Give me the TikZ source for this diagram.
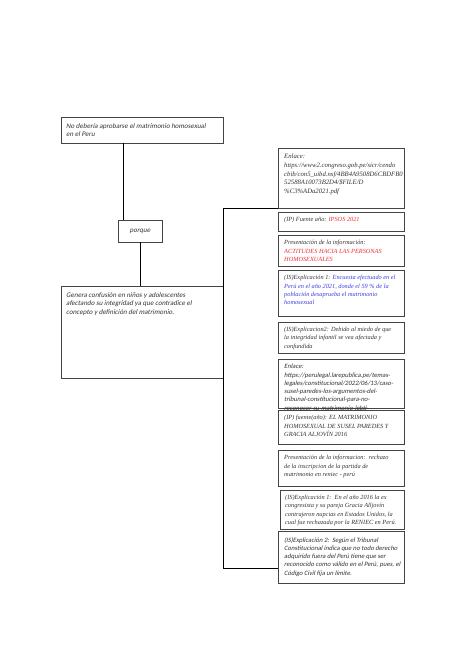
\documentclass[tikz,border=0pt]{standalone}
\usepackage{fontspec}
\setmainfont{Carlito}
\newfontfamily\sansit{Carlito}[FakeSlant=0.2]
\newfontfamily\serit{Liberation Serif}
\definecolor{boxgray}{HTML}{444444}
\definecolor{txtgray}{HTML}{333333}
\definecolor{redt}{HTML}{E8303A}
\definecolor{bluet}{HTML}{3B3BE0}
\tikzset{
  box/.style={draw=boxgray, line width=0.8pt, inner sep=0pt, outer sep=0pt, anchor=north west},
  wbox/.style={box, fill=white},
  txt/.style={inner sep=0pt, anchor=north west, align=left, text=txtgray},
  stxt/.style={txt, font=\sansit\fontsize{7.0}{8.8}\selectfont},
  sstxt/.style={txt, font=\sansit\fontsize{6.6}{8.3}\selectfont},
  rtxt/.style={txt, font=\serit\fontsize{6.3}{8.4}\selectfont\itshape},
  utxt/.style={txt, font=\serit\fontsize{6.7}{8.7}\selectfont\itshape},
  conn/.style={draw=black, line width=0.8pt}
}
\begin{document}
\begin{tikzpicture}[x=1pt,y=-1pt]
\useasboundingbox (0,0) rectangle (474,670);
% left column
\node[box, minimum width=162pt, minimum height=26pt] (top) at (61,117) {};
\node[stxt] (topt) at ([xshift=5pt,yshift=-6pt]top.north west) {No debería aprobarse el matrimonio homosexual\\en el Peru};
\node[box, minimum width=44pt, minimum height=22pt] (porque) at (118,220) {};
\node[stxt, anchor=center] (porquet) at (porque.center) {porque};
\node[box, minimum width=162pt, minimum height=92pt] (big) at (61,286) {};
\node[stxt] (bigt) at ([xshift=5pt,yshift=-6pt]big.north west) {Genera confusión en niños y adolescentes\\afectando su integridad ya que contradice el\\concepto y definición del matrimonio.};
% right column boxes
\node[box, minimum width=126pt, minimum height=60pt] (b1) at (278,148) {};
\node[utxt] (b1t) at ([xshift=6pt,yshift=-6pt]b1.north west) {Enlace:\\https://www2.congreso.gob.pe/sicr/cendo\\cbib/con5\_uibd.nsf/4BB4A9508D6CBDFB0\\52588A10073B2D4/\$FILE/D\\\%C3\%ADa2021.pdf};
\node[box, minimum width=126pt, minimum height=19pt] (b2) at (278,212) {};
\node[rtxt] (b2t) at ([xshift=6pt,yshift=-5pt]b2.north west) {(IP) Fuente año: \textcolor{redt}{IPSOS 2021}};
\node[box, minimum width=126pt, minimum height=31pt] (b3) at (278,235) {};
\node[rtxt] (b3t) at ([xshift=6pt,yshift=-5pt]b3.north west) {Presentación de la información:\\\textcolor{redt}{ACTITUDES HACIA LAS PERSONAS}\\\textcolor{redt}{HOMOSEXUALES}};
\node[box, minimum width=126pt, minimum height=46pt] (b4) at (278,270) {};
\node[rtxt] (b4t) at ([xshift=6pt,yshift=-5pt]b4.north west) {(IS)Explicación 1: \textcolor{bluet}{Encuesta efectuado en el}\\\textcolor{bluet}{Perú en el año 2021, donde el 59 \% de la}\\\textcolor{bluet}{población desaprueba el matrimonio}\\\textcolor{bluet}{homosexual}};
\node[box, minimum width=126pt, minimum height=31pt] (b5) at (278,322) {};
\node[rtxt] (b5t) at ([xshift=6pt,yshift=-5pt]b5.north west) {(IS)Explicacion2: Debido al miedo de que\\la integridad infantil se vea afectada y\\confundida};
\node[box, minimum width=126pt, minimum height=49pt] (b6) at (278,359) {};
\node[sstxt] (b6t) at ([xshift=6pt,yshift=-5pt]b6.north west) {Enlace:\\https://perulegal.larepublica.pe/temas-\\legales/constitucional/2022/06/13/caso-\\susel-paredes-los-argumentos-del-\\tribunal-constitucional-para-no-\\reconocer-su-matrimonio-lgbti-};
\node[wbox, minimum width=126pt, minimum height=34pt] (b7) at (278,410) {};
\node[rtxt] (b7t) at ([xshift=6pt,yshift=-5pt]b7.north west) {(IP) fuente(año): EL MATRIMONIO\\HOMOSEXUAL DE SUSEL PAREDES Y\\GRACIA ALJOVÍN 2016};
\node[box, minimum width=126pt, minimum height=36pt] (b8) at (278,450) {};
\node[rtxt] (b8t) at ([xshift=6pt,yshift=-5pt]b8.north west) {Presentación de la informacion:\ \ rechazo\\de la inscripcion de la partida de\\matrimonio en reniec - perú};
\node[box, minimum width=124pt, minimum height=39pt] (b9) at (280,490) {};
\node[rtxt] (b9t) at ([xshift=5pt,yshift=-5pt]b9.north west) {(IS)Explicación 1:\ \ En el año 2016 la ex\\congresista y su pareja Gracia Alljovín\\contrajeron nupcias en Estados Unidos, la\\cual fue rechazada por la RENIEC en Perú.};
\node[box, minimum width=126pt, minimum height=52pt] (b10) at (278,531) {};
\node[sstxt] (b10t) at ([xshift=6pt,yshift=-6pt]b10.north west) {(IS)Explicación 2:\ \ Según el Tribunal\\Constitucional indica que no todo derecho\\adquirido fuera del Perú tiene que ser\\reconocido como válido en el Perú, pues, el\\Código Civil fija un límite.};
% connectors
\coordinate (jt) at (223,208);
\coordinate (jb) at (223,568);
\coordinate (e10) at (278,568);
\draw[conn] ([xshift=-19pt]top.south) -- ([xshift=-19pt]top.south |- porque.north);
\draw[conn] (porque.south) -- (porque.south |- big.north);
\draw[conn] (b1.south west) -- (jt) -- (jb) -- (e10);
\end{tikzpicture}
\end{document}
